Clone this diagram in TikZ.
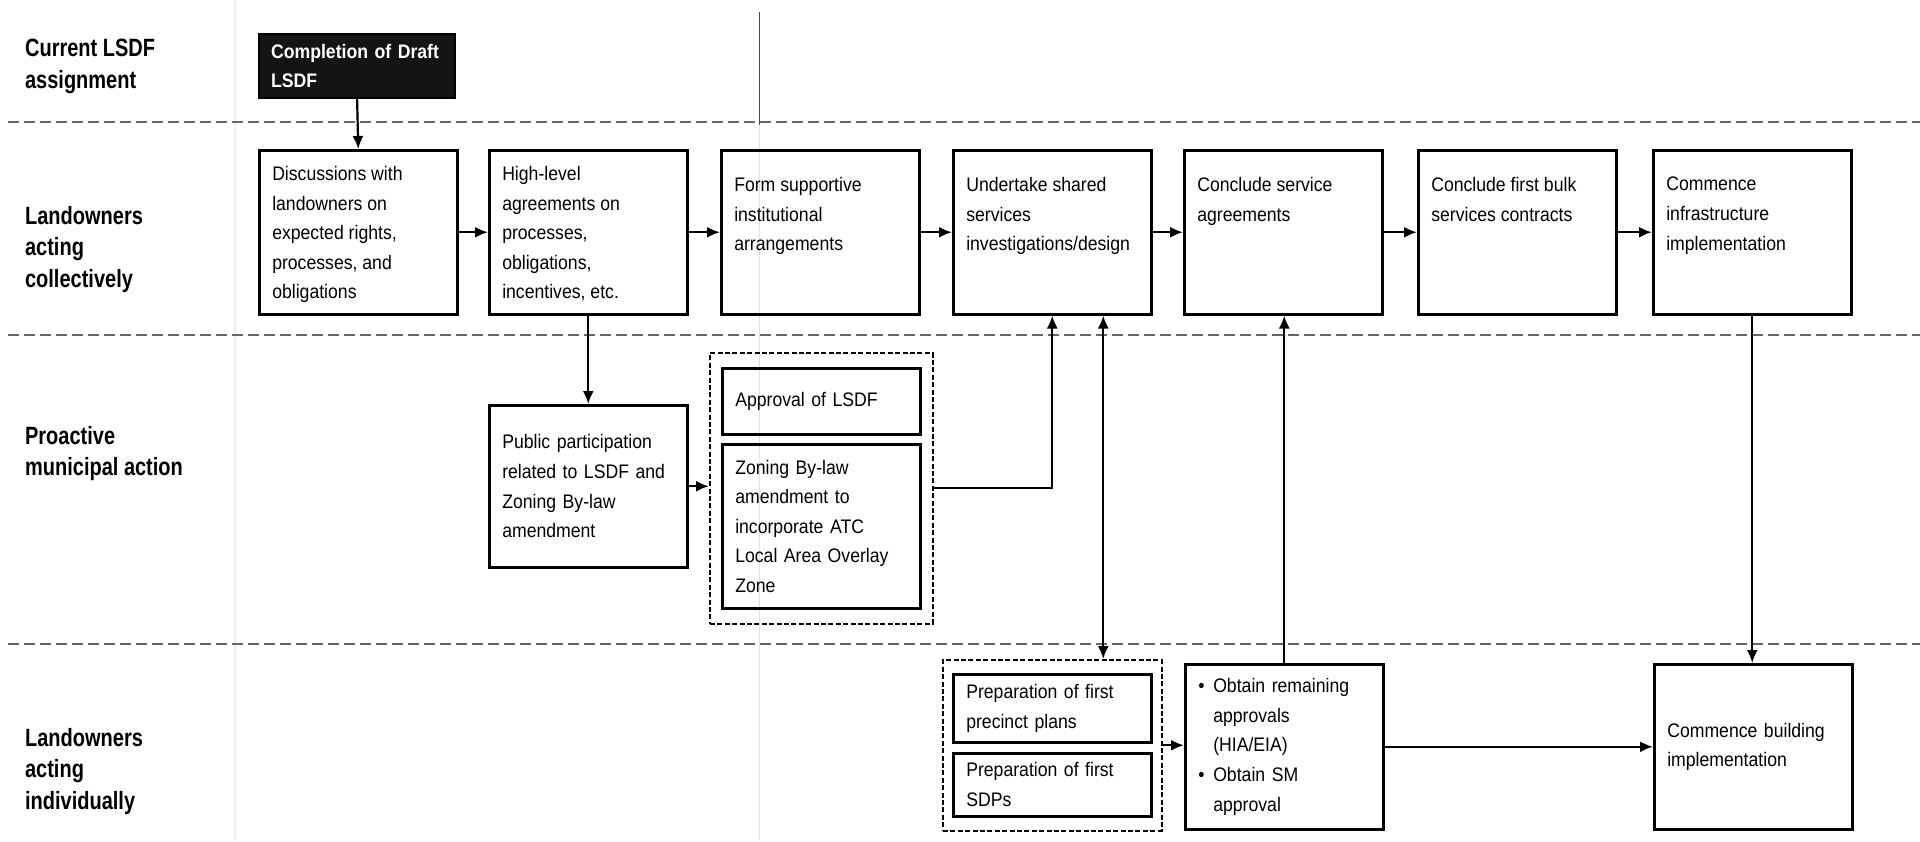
\documentclass[tikz,border=0pt]{standalone}
\usepackage{fontspec}
\setmainfont{Liberation Sans}
\usepackage{tikz}
\usetikzlibrary{arrows.meta,fit}

% narrow sans for the boxes and the lane headings
\newfontfamily\boxfamily[FakeStretch=0.9]{Liberation Sans}
\newfontfamily\lanefamily[FakeStretch=0.8]{Liberation Sans}
\newcommand{\boxfont}{\boxfamily\fontsize{9.8pt}{14.8pt}\selectfont}
\newcommand{\lanefont}{\lanefamily\bfseries\fontsize{12.5pt}{15.8pt}\selectfont}

% text hung from the top of a stage box
\newcommand{\toptext}[2][13.5pt]{\parbox[c][82pt][t]{86pt}{\raggedright\vspace*{#1}#2}}
\newcommand{\itembul}{\makebox[7.5pt][l]{\textbullet}}
\newcommand{\itemgap}{\makebox[7.5pt]{}}

\tikzset{
  stage/.style={draw, line width=1.25pt, anchor=north west, inner sep=0pt,
    minimum width=99pt, minimum height=82pt, font=\boxfont},
  task/.style={draw, line width=1.25pt, anchor=north west, align=left,
    text width=86pt, inner xsep=6.5pt, inner ysep=0pt, minimum height=#1, font=\boxfont},
  group/.style={draw, line width=1pt, dash pattern=on 2.5pt off 1.2pt, inner sep=0pt},
  lane/.style={draw=black!60, line width=1pt, dash pattern=on 5.5pt off 2.5pt},
  heading/.style={anchor=north west, align=left, inner sep=0pt, font=\lanefont},
}

\begin{document}
\begin{tikzpicture}[x=0.5pt,y=-0.5pt,>={Latex[length=6.5pt,width=5.5pt]},line width=1.1pt]
  \useasboundingbox (0,0) rectangle (1920,841);

  % faint rules left on the sheet
  \draw[black!7, line width=0.6pt] (235,0) -- (235,841);
  \draw[black!70, line width=0.5pt] (759,12) -- (759,125);
  \draw[black!12, line width=0.5pt] (759,125) -- (759,841);

  % lanes
  \draw[lane] (8,122) -- (1920,122);
  \draw[lane] (8,335) -- (1920,335);
  \draw[lane] (8,644) -- (1920,644);

  \node[heading] (headcur)  at (24,38)  {Current LSDF\\assignment};
  \node[heading] (headcoll) at (24,205) {Landowners\\acting\\collectively};
  \node[heading] (headmuni) at (24,425) {Proactive\\municipal action};
  \node[heading] (headind)  at (24,727) {Landowners\\acting\\individually};

  \node[draw, fill=black!92, text=white, anchor=north west, align=left, text width=86pt,
    inner xsep=6pt, minimum height=32pt, font=\boxfont\bfseries] (draft) at (258,33)
    {Completion of Draft\\LSDF};

  % collective steps
  \node[stage] (disc)  at (258,149)  {\toptext[8pt]{Discussions with\\landowners on\\expected rights,\\processes, and\\obligations}};
  \node[stage] (high)  at (488,149)  {\toptext[8pt]{High-level\\agreements on\\processes,\\obligations,\\incentives, etc.}};
  \node[stage] (form)  at (720,149)  {\toptext{Form supportive\\institutional\\arrangements}};
  \node[stage] (under) at (952,149)  {\toptext{Undertake shared\\services\\investigations/design}};
  \node[stage] (concl) at (1183,149) {\toptext{Conclude service\\agreements}};
  \node[stage] (bulk)  at (1417,149) {\toptext{Conclude first bulk\\services contracts}};
  \node[stage] (infra) at (1652,149) {\toptext{Commence\\infrastructure\\implementation}};

  % municipal steps
  \node[task=81pt] (public) at (488,404) {Public participation\\related to LSDF and\\Zoning By-law\\amendment};
  \node[task=33pt] (approv) at (721,367) {Approval of LSDF};
  \node[task=82pt] (zoning) at (721,443) {Zoning By-law\\amendment to\\incorporate ATC\\Local Area Overlay\\Zone};
  \node[group, fit=(approv)(zoning), inner xsep=5.5pt, inner ysep=7pt] (munigrp) {};

  % individual steps
  \node[task=34pt] (precinct) at (952,673) {Preparation of first\\precinct plans};
  \node[task=31.5pt] (sdps)   at (952,752) {Preparation of first\\SDPs};
  \node[group, fit=(precinct)(sdps), inner xsep=4.5pt, inner ysep=6.5pt] (indiv) {};
  \node[task=82.5pt] (obtain) at (1184,663) {\itembul Obtain remaining\\\itemgap approvals\\\itemgap (HIA/EIA)\\\itembul Obtain SM\\\itemgap approval};
  \node[task=82.5pt] (build)  at (1653,663) {Commence building\\implementation};

  \draw[->] (draft.south) -- (disc.north);
  \draw[->] (disc.east) -- (high.west);
  \draw[->] (high.east) -- (form.west);
  \draw[->] (form.east) -- (under.west);
  \draw[->] (under.east) -- (concl.west);
  \draw[->] (concl.east) -- (bulk.west);
  \draw[->] (bulk.east) -- (infra.west);

  \draw[->] (high.south) -- (high.south |- public.north);
  \draw[->] (public.east) -- (public.east -| munigrp.west);
  \draw[->] (munigrp.east) -| (under.south);
  \draw[<->] ([xshift=25.5pt]under.south) coordinate (tie) -- (tie |- indiv.north);
  \draw[->] (obtain.north) -- (obtain.north |- concl.south);
  \draw[->] (infra.south) -- (infra.south |- build.north);
  \draw[->] (indiv.east) -- (indiv.east -| obtain.west);
  \draw[->] (obtain.east) -- (build.west);
\end{tikzpicture}
\end{document}
